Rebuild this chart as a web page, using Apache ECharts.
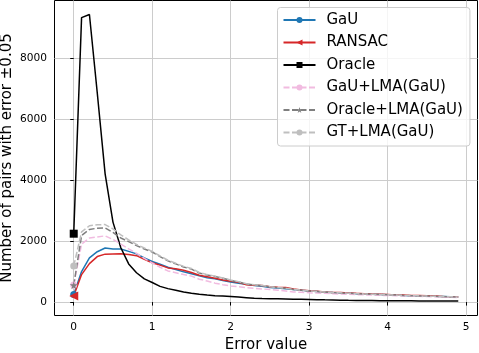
<!DOCTYPE html>
<html>
<head>
<meta charset="utf-8">
<script src="https://cdn.jsdelivr.net/npm/echarts@6/dist/echarts.min.js"></script>
<style>
  html, body { margin: 0; padding: 0; background: #fff; }
  #chart { width: 479px; height: 353px; }
</style>
</head>
<body>
<div id="chart"></div>
<script>
// error value bins
var errorValues = [0, 0.1, 0.2, 0.3, 0.4, 0.5, 0.6, 0.7, 0.8, 0.9,
  1.0, 1.1, 1.2, 1.3, 1.4, 1.5, 1.6, 1.7, 1.8, 1.9,
  2.0, 2.1, 2.2, 2.3, 2.4, 2.5, 2.6, 2.7, 2.8, 2.9,
  3.0, 3.1, 3.2, 3.3, 3.4, 3.5, 3.6, 3.7, 3.8, 3.9,
  4.0, 4.1, 4.2, 4.3, 4.4, 4.5, 4.6, 4.7, 4.8, 4.9];

var gau = [250, 1000, 1450, 1650, 1770, 1740, 1740, 1660, 1580, 1450,
  1330, 1240, 1140, 1070, 990, 930, 860, 800, 760, 710,
  660, 620, 580, 540, 520, 480, 460, 440, 410, 385,
  360, 345, 325, 310, 300, 288, 275, 265, 255, 247,
  238, 228, 218, 210, 202, 195, 187, 180, 172, 165];

var ransac = [200, 900, 1260, 1490, 1570, 1575, 1580, 1560, 1520, 1400,
  1290, 1210, 1120, 1090, 1040, 970, 880, 830, 780, 720,
  680, 650, 570, 555, 545, 500, 485, 480, 425, 395,
  370, 355, 330, 315, 310, 300, 285, 275, 262, 255,
  245, 235, 228, 218, 212, 205, 195, 185, 178, 170];

var oracle = [2240, 9320, 9420, 6850, 4200, 2620, 1780, 1250, 960, 760,
  640, 515, 440, 385, 330, 290, 255, 230, 210, 195,
  180, 165, 145, 125, 115, 110, 105, 100, 95, 90,
  85, 78, 72, 67, 62, 58, 55, 52, 50, 47,
  45, 43, 42, 40, 38, 37, 35, 34, 33, 32];

var gauLma = [560, 1900, 2100, 2130, 2170, 2050, 1900, 1740, 1600, 1430,
  1280, 1140, 1020, 960, 900, 850, 750, 690, 620, 570,
  530, 500, 470, 450, 430, 410, 390, 360, 330, 320,
  305, 295, 285, 275, 265, 255, 245, 237, 230, 222,
  215, 208, 200, 194, 188, 180, 172, 166, 160, 152];

var oracleLma = [550, 2180, 2380, 2420, 2430, 2280, 2100, 1980, 1850, 1740,
  1640, 1490, 1350, 1250, 1150, 1080, 950, 890, 840, 780,
  710, 660, 590, 560, 540, 500, 470, 450, 410, 385,
  360, 345, 325, 310, 300, 288, 275, 265, 255, 247,
  238, 228, 218, 210, 202, 195, 187, 180, 172, 165];

var gtLma = [1180, 2300, 2500, 2530, 2540, 2400, 2200, 2040, 1890, 1770,
  1660, 1510, 1370, 1270, 1170, 1100, 970, 900, 850, 790,
  720, 670, 600, 570, 545, 505, 475, 455, 415, 390,
  365, 348, 328, 312, 302, 290, 277, 267, 257, 248,
  240, 230, 220, 212, 204, 196, 188, 181, 173, 166];

var xTicks = [0, 1, 2, 3, 4, 5];
var yTicks = [0, 2000, 4000, 6000, 8000];

var FONT = 'DejaVu Sans';
var starPath = 'path://M50,0 L61,35 L98,35 L68,57 L79,91 L50,70 L21,91 L32,57 L2,35 L39,35 Z';

// only the first point carries a marker (like markevery=[0])
function pairs(values) {
  return values.map(function (v, i) {
    if (i === 0) return [errorValues[i], v];
    return { value: [errorValues[i], v], symbol: 'none' };
  });
}

function makeSeries(name, values, color, symbol, size, dashed, rotate) {
  return {
    name: name,
    type: 'line',
    data: pairs(values),
    symbol: symbol,
    symbolSize: size,
    symbolRotate: rotate || 0,
    showSymbol: true,
    animation: false,
    itemStyle: { color: color },
    lineStyle: { color: color, width: 1.5, type: dashed ? [6, 2.5] : 'solid' },
    emphasis: { disabled: true }
  };
}

var chart = echarts.init(document.getElementById('chart'));
chart.setOption({
  animation: false,
  textStyle: { fontFamily: FONT },
  grid: {
    left: 54.5, right: 1.5, top: 0.5, bottom: 37.5,
    outerBoundsMode: 'none',
    containLabel: false,
    show: true, borderColor: '#000', borderWidth: 1, backgroundColor: 'transparent'
  },
  // y axis title, placed like the matplotlib ylabel
  graphic: [{
    type: 'text',
    x: 7.5,
    y: 158,
    rotation: Math.PI / 2,
    style: {
      text: 'Number of pairs with error \u00b10.05',
      fontFamily: FONT,
      fontSize: 15,
      fill: '#000',
      align: 'center',
      verticalAlign: 'middle'
    }
  }],
  legend: {
    orient: 'vertical',
    left: 277.5,
    top: 7.5,
    itemWidth: 32,
    itemHeight: 7.5,
    itemGap: 7.5,
    padding: [5, 7, 6, 5],
    backgroundColor: 'rgba(255,255,255,0.8)',
    borderColor: '#cccccc',
    borderWidth: 1,
    borderRadius: 3,
    textStyle: { fontFamily: FONT, fontSize: 15, color: '#000', lineHeight: 15, padding: [0, 0, 0, 6] },
    data: ['GaU', 'RANSAC', 'Oracle', 'GaU+LMA(GaU)', 'Oracle+LMA(GaU)', 'GT+LMA(GaU)']
  },
  xAxis: {
    type: 'value',
    min: -0.245,
    max: 5.145,
    name: 'Error value',
    nameLocation: 'middle',
    nameGap: 20,
    nameTextStyle: { fontFamily: FONT, fontSize: 15, color: '#000' },
    axisLine: { show: false },
    axisTick: { show: true, length: 3.5, customValues: xTicks, lineStyle: { color: '#000', width: 1 } },
    axisLabel: { customValues: xTicks, margin: 6, fontFamily: FONT, fontSize: 10.6, color: '#000',
      formatter: function (v) { return String(v); } },
    splitLine: { show: true, lineStyle: { color: '#cccccc', width: 1 } }
  },
  yAxis: {
    type: 'value',
    min: -440,
    max: 9880,
    axisLine: { show: false },
    axisTick: { show: true, length: 3.5, customValues: yTicks, lineStyle: { color: '#000', width: 1 } },
    axisLabel: { customValues: yTicks, margin: 7.5, fontFamily: FONT, fontSize: 10.6, color: '#000',
      formatter: function (v) { return String(v); } },
    splitLine: { show: true, lineStyle: { color: '#cccccc', width: 1 } }
  },
  series: [
    makeSeries('GaU', gau, '#1f77b4', 'circle', 7, false),
    makeSeries('RANSAC', ransac, '#d62728', 'triangle', 9, false, 90),
    makeSeries('Oracle', oracle, '#000000', 'rect', 8, false),
    makeSeries('GaU+LMA(GaU)', gauLma, '#f1bbe0', 'circle', 7, true),
    makeSeries('Oracle+LMA(GaU)', oracleLma, '#7f7f7f', starPath, 8, true),
    makeSeries('GT+LMA(GaU)', gtLma, '#bfbfbf', 'circle', 7, true)
  ]
});
</script>
</body>
</html>
